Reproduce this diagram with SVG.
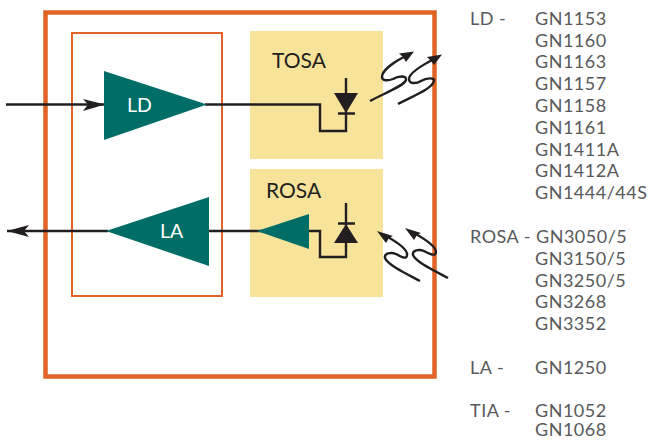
<svg xmlns="http://www.w3.org/2000/svg" width="650" height="441" viewBox="0 0 650 441">
<style>
text{font-family:Lato,"Open Sans","Liberation Sans",sans-serif}
.lst{font-size:18px;letter-spacing:.5px;fill:#58595b}
.lbl{font-size:21px;fill:#231f20}
.amp{fill:#006e67}
.wl{font-size:19.500px;fill:#fff}
.ln{fill:none;stroke:#231f20;stroke-width:2.400}
.ray{fill:none;stroke:#231f20;stroke-width:2.400}
.ah{fill:#231f20}
.box{fill:#f8e39a}
</style>
<rect width="650" height="441" fill="#fff"/>
<g id="tosa"><rect class="box" x="250" y="31" width="133" height="128"/><text class="lbl" x="272" y="68">TOSA</text></g>
<g id="rosa"><rect class="box" x="250" y="169" width="133" height="128"/><text class="lbl" x="266" y="198">ROSA</text></g>
<g id="module"><rect x="45.500" y="12.500" width="389" height="364" fill="none" stroke="#df6426" stroke-width="4.500"/></g>
<g id="driver-block"><rect x="72" y="33" width="150" height="263" fill="none" stroke="#df6426" stroke-width="2"/></g>
<g id="connectors">
<path class="ln" d="M6 104.500H105M205 104.500H320V131H346V78"/>
<path class="ah" d="M83 99L105 104.500L83 111L88 104.500Z"/>
<path class="ln" d="M7 231H108M208 231H320V257H346V203"/>
<path class="ah" d="M7 231L29 225L24 231L29 237Z"/>
<path class="ln" d="M338 113.500H355M338 223.500H355"/>
<path class="ah" d="M334 93H358L346 113Z"/>
<path class="ah" d="M346 224L334 243H358Z"/>
<path class="ray" d="M370 101C385 93 404 86 406 80C407 75 398 76 393 79C388 81 382 81 382 77C382 70 395 61 410 54"/>
<path class="ah" d="M414 51.500L399 53.500L403 57L406 62Z"/>
<path class="ray" d="M398 104C413 96 432 89 434 81C435 77 426 78 421 81C416 84 409 84 409 79C409 73 424 64 438 57"/>
<path class="ah" d="M442 54.500L427 57L431 61L434 65Z"/>
<path class="ray" d="M420 281C405 273 388 265 385 258C384 253 391 252 396 254C401 257 407 260 407 255C408 249 395 241 386 236"/>
<path class="ah" d="M377 231L386 243L389 238L393 236Z"/>
<path class="ray" d="M448 278C433 270 416 262 413 255C412 250 419 249 424 251C429 254 436 257 436 252C436 246 423 238 414 233"/>
<path class="ah" d="M405 228L414 240L417 235L421 233Z"/>
</g>
<g id="ld-amp"><path class="amp" d="M104 71L207 104.500L104 140Z"/><text class="wl" x="127" y="112">LD</text></g>
<g id="la-amp"><path class="amp" d="M106 231L209 197V266Z"/><text class="wl" x="160" y="238">LA</text></g>
<g id="tia-amp"><path class="amp" d="M257 231L309 214V249Z"/></g>
<g id="parts" class="lst">
<text x="470" y="25">LD -</text>
<text x="535" y="25">GN1153</text>
<text x="535" y="47">GN1160</text>
<text x="535" y="68">GN1163</text>
<text x="535" y="90">GN1157</text>
<text x="535" y="112">GN1158</text>
<text x="535" y="134">GN1161</text>
<text x="535" y="156">GN1411A</text>
<text x="535" y="177">GN1412A</text>
<text x="535" y="199">GN1444/44S</text>
<text x="470" y="243">ROSA -</text>
<text x="536" y="243">GN3050/5</text>
<text x="535" y="265">GN3150/5</text>
<text x="535" y="287">GN3250/5</text>
<text x="535" y="308">GN3268</text>
<text x="535" y="330">GN3352</text>
<text x="470" y="374">LA -</text>
<text x="535" y="374">GN1250</text>
<text x="470" y="417">TIA -</text>
<text x="535" y="417">GN1052</text>
<text x="535" y="436">GN1068</text>
</g>
</svg>
